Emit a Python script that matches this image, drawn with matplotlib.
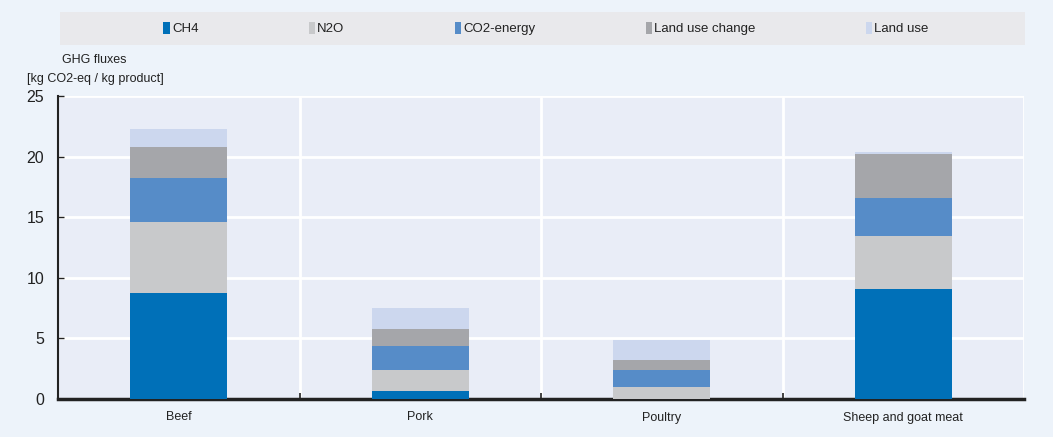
import matplotlib
matplotlib.use("Agg")
import matplotlib.pyplot as plt
import numpy as np
from matplotlib.patches import Rectangle

plt.rcParams['font.family'] = ['Liberation Sans', 'DejaVu Sans']

# Data (kg CO2-eq / kg product)
products = ["Beef", "Pork", "Poultry", "Sheep and goat meat"]
ch4 = [8.77, 0.66, 0.02, 9.10]
n2o = [5.80, 1.74, 1.00, 4.34]
co2_energy = [3.63, 1.99, 1.38, 3.16]
land_use_change = [2.58, 1.41, 0.83, 3.60]
land_use = [1.49, 1.73, 1.65, 0.14]

series = [("CH4", ch4, "#0070B8"),
          ("N2O", n2o, "#C8C9CB"),
          ("CO2-energy", co2_energy, "#568CC8"),
          ("Land use change", land_use_change, "#A5A6AA"),
          ("Land use", land_use, "#CCD7EE")]

fig = plt.figure(figsize=(10.53, 4.37), dpi=100, facecolor="#EDF3FA")
ax = fig.add_axes([58 / 1053, 1 - 399 / 437, 966 / 1053, 303 / 437])
ax.set_facecolor("#E9EDF7")

x = np.arange(len(products))
bottom = np.zeros(len(products))
handles = []
for name, vals, col in series:
    b = ax.bar(x, vals, 0.4, bottom=bottom, color=col, label=name, zorder=3)
    handles.append(b)
    bottom += np.array(vals)

ax.set_xlim(-0.5, 3.5)
ax.set_ylim(0, 25)
ax.set_yticks([0, 5, 10, 15, 20, 25])
ax.set_xticks(x)
ax.set_xticklabels(products, fontsize=9, color="#222222")
ax.set_xticks(np.arange(0.5, 3.5, 1), minor=True)
ax.tick_params(axis="x", which="major", length=0, pad=9)
ax.tick_params(axis="x", which="minor", length=4, direction="in", width=1.2, color="#222222")
ax.tick_params(axis="y", length=4, direction="in", width=1, color="#222222",
               labelsize=11.5, labelcolor="#222222", pad=10)
ax.grid(axis="y", color="white", linewidth=2, zorder=1)
ax.grid(axis="x", which="minor", color="white", linewidth=2, zorder=1)
for s in ["top", "right"]:
    ax.spines[s].set_visible(False)
ax.spines["left"].set_color("#222222")
ax.spines["left"].set_linewidth(1.5)
ax.spines["bottom"].set_color("#222222")
ax.spines["bottom"].set_linewidth(2.5)
ax.axvline(3.5, color="white", linewidth=2, zorder=1)

fig.text(62 / 1053, 1 - 60 / 437, "GHG fluxes", fontsize=9, color="#222222", va="center")
fig.text(27 / 1053, 1 - 79 / 437, "[kg CO2-eq / kg product]", fontsize=9, color="#222222", va="center")

# legend band
fig.patches.append(Rectangle((60 / 1053, 1 - 45 / 437), 965 / 1053, 33 / 437,
                             transform=fig.transFigure, facecolor="#E9E9EC",
                             edgecolor="none", zorder=0))
leg = fig.legend(handles=handles, loc="center", bbox_to_anchor=(546 / 1053, 1 - 28.5 / 437),
                 ncol=5, frameon=False, fontsize=9.5, handlelength=0.5, handleheight=1.0,
                 handletextpad=0.15, columnspacing=8.35, labelcolor="#222222")

fig.savefig("out.png", dpi=100, facecolor=fig.get_facecolor())
